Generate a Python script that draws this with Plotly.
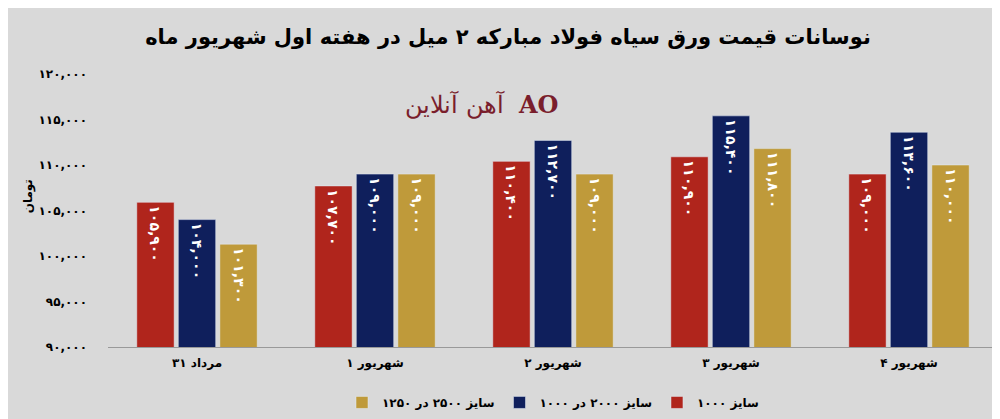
import plotly.graph_objects as go

fa = str.maketrans("0123456789", "۰۱۲۳۴۵۶۷۸۹")

def to_fa(v):
    return f"{v:,}".translate(fa)

def rtl_label(num, word):
    # force the number to sit on the left of the word, as in the source
    return "\u2067" + word + " \u2066" + num + "\u2069\u2069"

categories = [rtl_label("۳۱", "مرداد"), rtl_label("۱", "شهریور"), rtl_label("۲", "شهریور"),
              rtl_label("۳", "شهریور"), rtl_label("۴", "شهریور")]
size_1000 = [105900, 107700, 110400, 110900, 109000]
size_2000 = [104000, 109000, 112700, 115400, 113600]
size_2500 = [101300, 109000, 109000, 111800, 110000]
names = ["<b>سایز ۱۰۰۰</b>", "<b>سایز ۲۰۰۰ در ۱۰۰۰</b>", "<b>سایز ۲۵۰۰ در ۱۲۵۰</b>"]
colors = ["#b0251c", "#0f1f5c", "#bf9a3a"]
tick_vals = [90000, 95000, 100000, 105000, 110000, 115000, 120000]

font = "DejaVu Sans"
fig = go.Figure()
for name, vals, c in zip(names, [size_1000, size_2000, size_2500], colors):
    fig.add_trace(go.Bar(
        x=categories, y=vals, name=name, marker_color=c,
        text=["<b>" + to_fa(v) + "</b>" for v in vals], textposition="inside",
        insidetextanchor="end", textangle=90,
        textfont=dict(color="white", size=14, family=font),
    ))

fig.update_layout(
    width=1000, height=419,
    paper_bgcolor="#d9d9d9", plot_bgcolor="#d9d9d9",
    font=dict(family=font, color="black"),
    title=dict(text="<b>نوسانات قیمت ورق سیاه فولاد مبارکه ۲ میل در هفته اول شهریور ماه</b>",
               x=0.5, y=0.95, font=dict(size=21)),
    barmode="group", bargap=0.3, bargroupgap=0.1,
    margin=dict(l=100, r=10, t=66, b=56),
    xaxis=dict(showline=True, linecolor="#999", tickfont=dict(size=12, family=font),
               ticks="", showgrid=False, ticklabelstandoff=5,
               tickprefix="<b>", ticksuffix="</b>"),
    yaxis=dict(range=[90000, 120000], tickvals=tick_vals,
               ticktext=["<b>" + to_fa(v) + "</b>" for v in tick_vals],
               showgrid=False, zeroline=False, tickfont=dict(size=12),
               ticklabelstandoff=20),
    legend=dict(orientation="h", x=0.5, xanchor="center", y=-0.15,
                traceorder="reversed", font=dict(size=12)),
    uniformtext=dict(minsize=12, mode="show"),
)
fig.add_annotation(text="<b>تومان</b>", textangle=-90, xref="paper", yref="paper",
                   x=-0.1, y=0.55, showarrow=False, font=dict(size=12))
fig.add_annotation(text="آهن آنلاین  <b>AO</b>", xref="paper", yref="paper",
                   x=0.42, y=0.95, showarrow=False,
                   font=dict(size=24, color="#7a1e2c", family="DejaVu Serif"))
fig.write_html("out.html")
